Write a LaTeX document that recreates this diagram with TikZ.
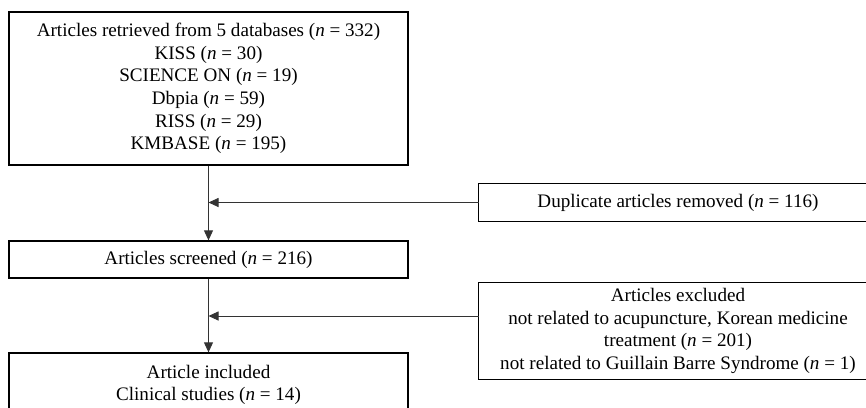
\documentclass[tikz,border=0pt]{standalone}
\usepackage{fontspec}
\setmainfont{Liberation Serif}
\usetikzlibrary{arrows.meta}
\begin{document}
\begin{tikzpicture}[x=1pt,y=-1pt,
  txt/.style={inner sep=0pt,align=center,font=\fontsize{19.1}{22.6}\selectfont},
  box/.style={txt,draw=black,line width=1.3pt},
  border/.style={draw=black,line width=1.3pt},
  conn/.style={draw=black!80,line width=0.9pt,-{Triangle[length=10pt,width=9pt]}}]
\useasboundingbox (0,0) rectangle (866,407);
\clip (0,0) rectangle (866,407);
\fill[white] (0,0) rectangle (866,407);
\node[box,minimum width=399pt,minimum height=153pt] (src) at (208.5,88.5)
  {Articles retrieved from 5 databases (\textit{n} = 332)\\
   KISS (\textit{n} = 30)\\
   SCIENCE ON (\textit{n} = 19)\\
   Dbpia (\textit{n} = 59)\\
   RISS (\textit{n} = 29)\\
   KMBASE (\textit{n} = 195)};
\node[box,minimum width=399pt,minimum height=37pt] (scr) at (208.5,259.5)
  {Articles screened (\textit{n} = 216)};
\node[box,minimum width=399pt,minimum height=64pt] (inc) at (208.5,385)
  {Article included\\Clinical studies (\textit{n} = 14)};
\node[txt,minimum width=398pt,minimum height=37pt] (dup) at (678,202.5)
  {Duplicate articles removed (\textit{n} = 116)};
\draw[border] (dup.north west) rectangle ([xshift=40pt]dup.south east);
\node[txt,minimum width=398pt,minimum height=96pt] (exc) at (678,331)
  {Articles excluded\\
   not related to acupuncture, Korean medicine\\
   treatment (\textit{n} = 201)\\
   not related to Guillain Barre Syndrome (\textit{n} = 1)};
\draw[border] (exc.north west) rectangle ([xshift=40pt]exc.south east);
\coordinate (j1) at (208.5,202.5);
\coordinate (j2) at (208.5,316);
\draw[conn] (src.south) -- (scr.north);
\draw[conn] (scr.south) -- (inc.north);
\draw[conn] (dup.west) -- (j1);
\draw[conn] (exc.west |- j2) -- (j2);
\end{tikzpicture}
\end{document}
